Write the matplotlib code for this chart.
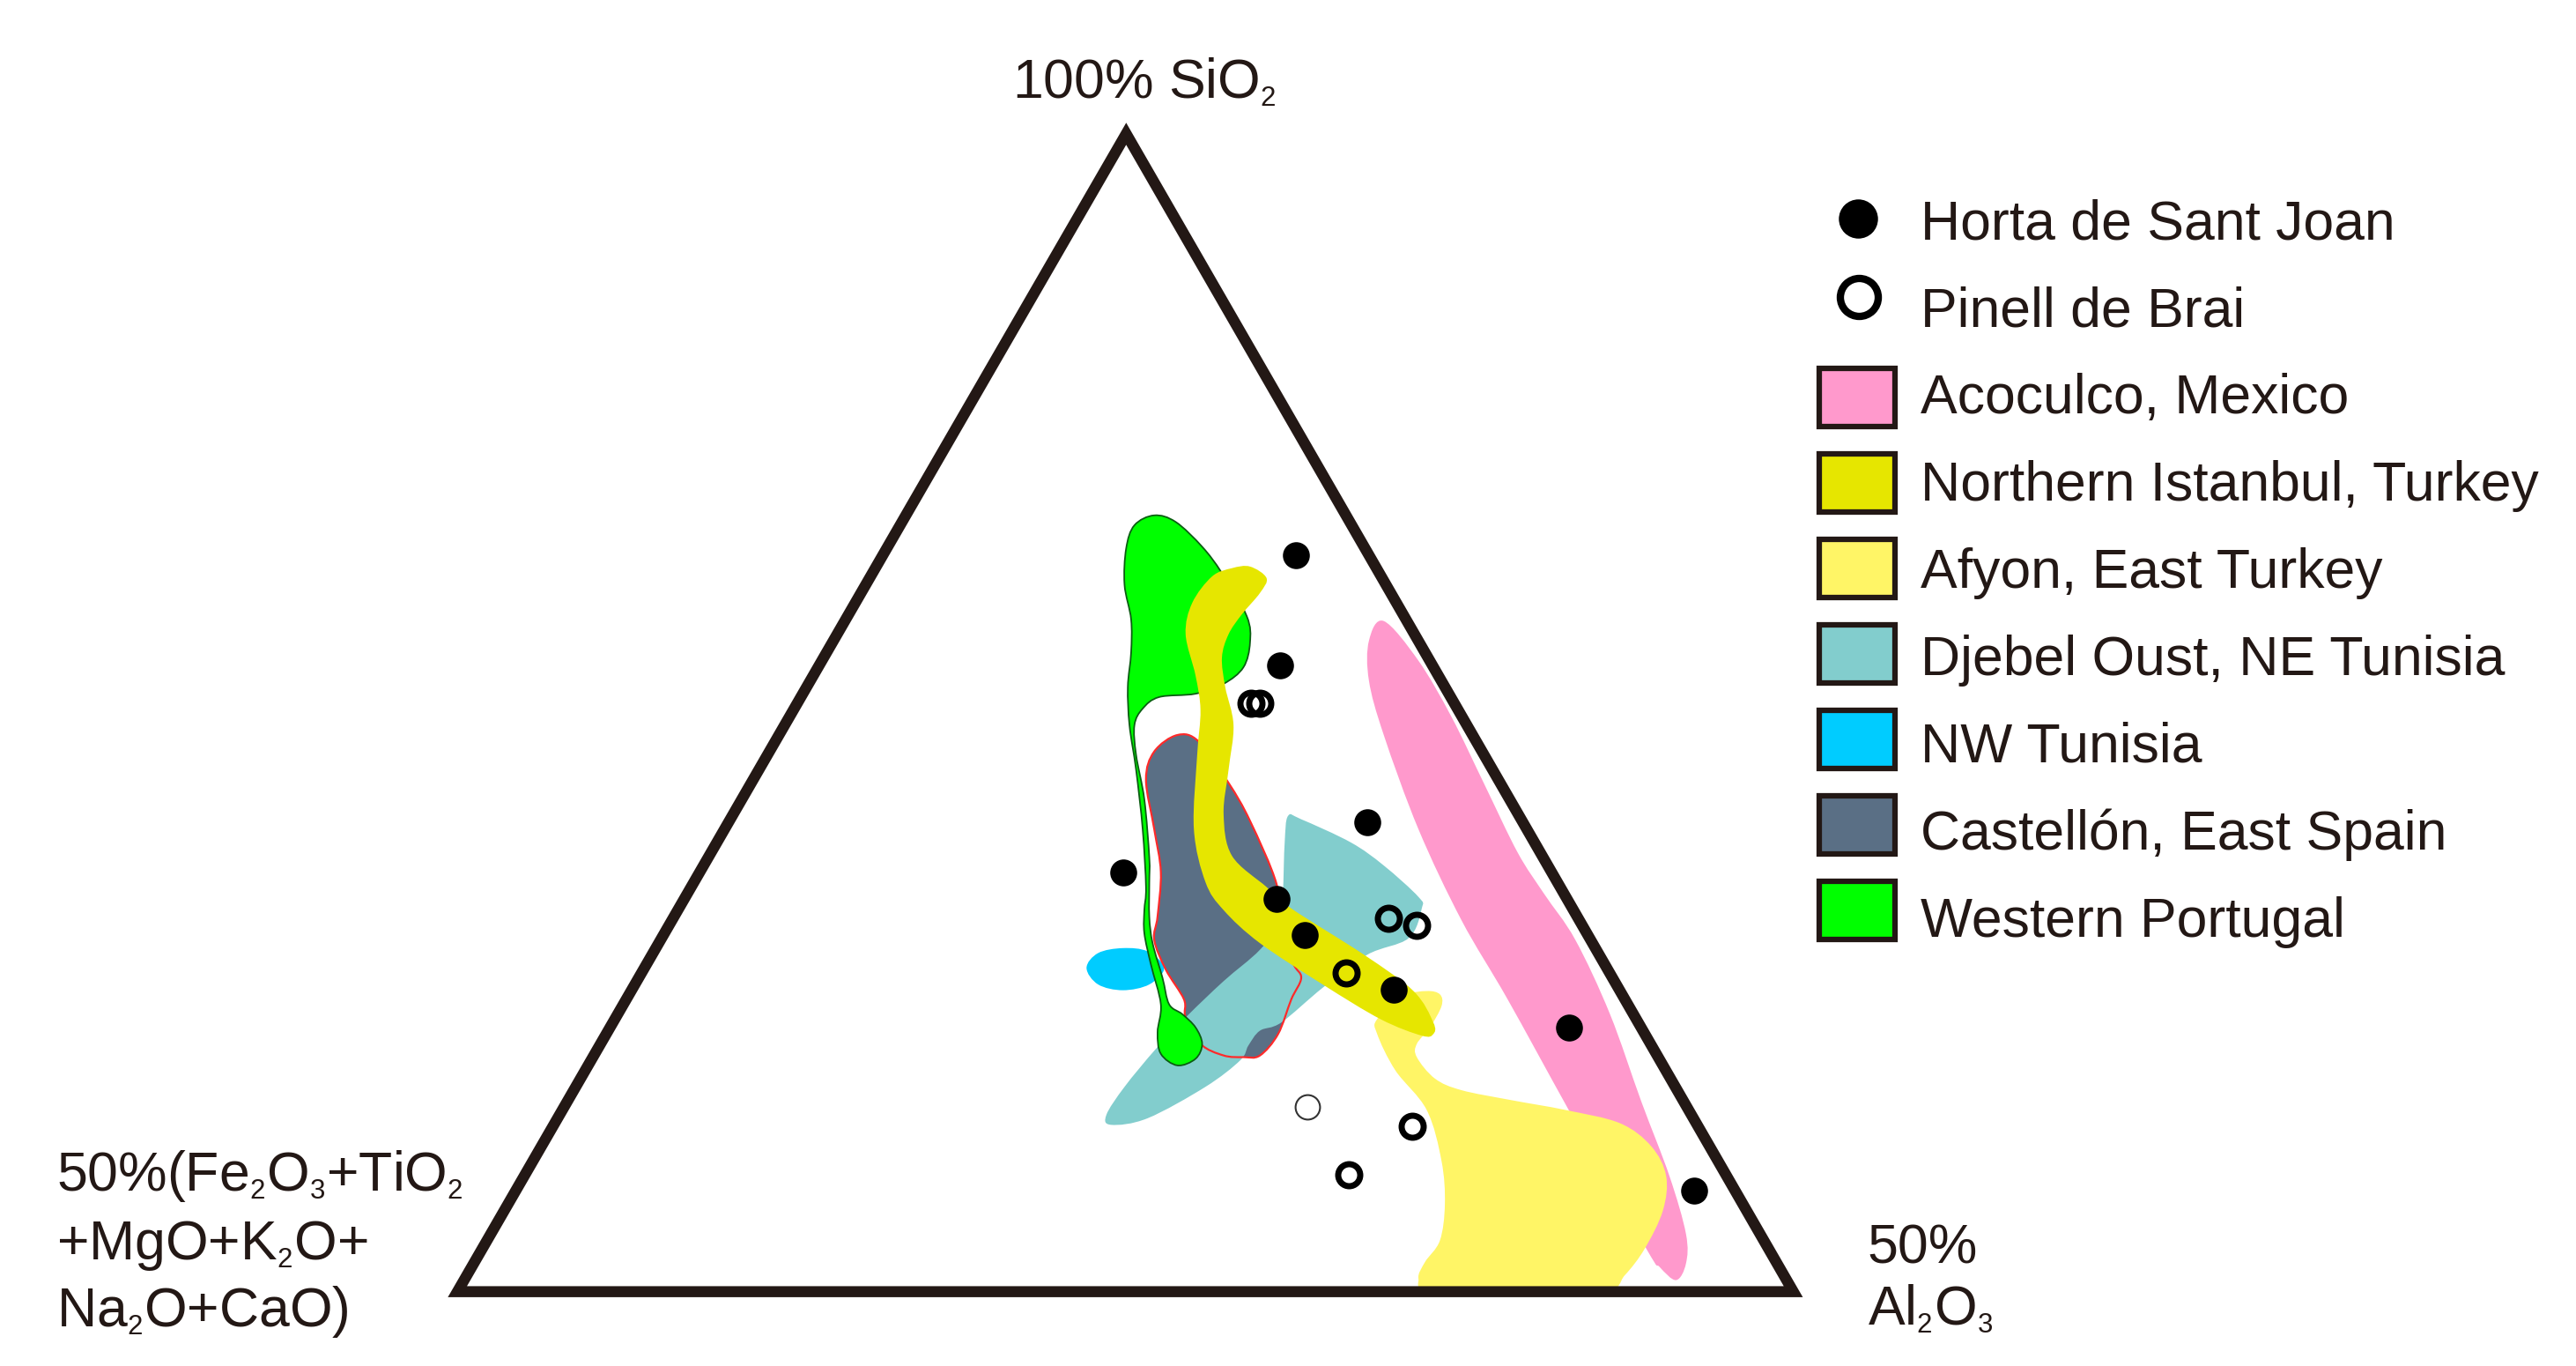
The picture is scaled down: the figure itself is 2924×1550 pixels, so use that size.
import matplotlib
matplotlib.use("Agg")
import matplotlib.pyplot as plt
import matplotlib._mathtext as _mt
from matplotlib.path import Path
from matplotlib.patches import PathPatch, Rectangle
import numpy as np

plt.rcParams['font.family'] = ['Liberation Sans', 'DejaVu Sans']
plt.rcParams['mathtext.fontset'] = 'custom'
plt.rcParams['mathtext.rm'] = 'Liberation Sans'
plt.rcParams['mathtext.default'] = 'rm'
_mt.SHRINK_FACTOR = 0.5

INK = '#231815'

# Diagram frame (units)
triangle = [(277, 782), (1086, 782), (682, 81)]

# Field outlines
acoculco = [(838, 376), (859, 400), (879, 434), (899, 475), (919, 516), (935, 541), (954, 569), (975, 614),
            (994, 667), (1011, 712), (1021, 747), (1021, 765), (1015, 775), (1005, 767), (997, 756),
            (950, 672), (913, 605), (885, 557), (859, 502), (838, 445), (829, 412), (829, 388)]
afyon = [(864, 600), (872, 602), (873, 609), (866, 622), (858, 632), (858, 640), (869, 653), (885, 660),
         (915, 666), (948, 672), (981, 680), (1000, 694), (1009, 712), (1007, 733), (996, 756), (984, 772),
         (972, 782), (920, 782), (866, 782), (859, 774), (863, 764), (872, 751), (875, 729), (873, 703),
         (864, 672), (845, 648), (834, 626), (834, 617), (850, 603)]
istanbul = [(757, 343), (767, 350), (763, 359), (752, 372), (744, 384), (740, 398), (742, 416), (747, 439),
            (744, 466), (741, 493), (746, 518), (767, 537), (782, 550), (826, 578), (856, 600), (868, 619),
            (868, 626), (861, 627), (836, 617), (801, 596), (763, 571), (741, 551), (730, 534), (723, 502),
            (725, 457), (727, 430), (724, 409), (718, 384), (722, 365), (734, 349), (746, 344)]
djebel = [(780, 494), (788, 496), (818, 510), (838, 524), (859, 543), (861, 550), (853, 568), (828, 578),
          (801, 598), (776, 619), (763, 624), (756, 633), (751, 642), (730, 658), (695, 677), (673, 681),
          (670, 675), (681, 658), (700, 635), (719, 615), (741, 594), (763, 575), (776, 557), (777, 540),
          (778, 510)]
nw_tunisia = [(658, 586), (665, 577), (680, 574), (695, 576), (705, 586), (696, 596), (680, 599.5), (665, 596)]
castellon = [(713, 445), (699, 455), (694, 472), (699, 502), (703, 528), (701, 555), (699, 569), (706, 587),
             (717, 605), (718, 616), (727, 632), (741, 639), (753, 640), (763, 639), (774, 626), (782, 605),
             (788, 592), (783, 583), (775, 560), (773, 535), (757, 497), (744, 474), (726, 449)]
portugal = [(699, 312), (687, 318), (682, 332), (681, 354), (685, 375), (685, 395), (683, 416), (684, 439),
            (688, 466), (692, 502), (694, 537), (693, 551), (693, 565), (697, 584), (703, 608), (701, 625),
            (703, 638), (713, 645), (724, 641), (728, 632), (724, 622), (716, 614), (708, 608), (704, 592),
            (698, 571), (696, 555), (696, 534), (696, 519), (693, 484), (688, 457), (687, 439), (692, 429),
            (702, 422), (724, 420), (741, 414), (753, 404), (757, 389), (755, 373), (740, 347), (728, 331),
            (712, 316)]

# Samples
horta_x = [785, 775, 828, 680, 773, 790, 844, 950, 1026]
horta_y = [336, 403, 498, 528, 544, 566, 599, 622, 721]
pinell_x = [757.5, 763, 841, 858, 815, 855, 817]
pinell_y = [426, 426, 556, 560, 589, 682, 711]
pinell_thin_x = [792]
pinell_thin_y = [670]

# Legend
point_labels = ['Horta de Sant Joan', 'Pinell de Brai']
field_labels = ['Acoculco, Mexico', 'Northern Istanbul, Turkey', 'Afyon, East Turkey',
                'Djebel Oust, NE Tunisia', 'NW Tunisia', 'Castellón, East Spain', 'Western Portugal']
field_colors = ['#ff99cc', '#e6e600', '#fff566', '#82cdcd', '#00ccff', '#5a6f85', '#00ff00']


def smooth_path(pts):
    p = np.asarray(pts, float)
    n = len(p)
    verts = [p[0]]
    codes = [Path.MOVETO]
    for i in range(n):
        p0, p1, p2, p3 = p[i - 1], p[i], p[(i + 1) % n], p[(i + 2) % n]
        verts += [p1 + (p2 - p0) / 6, p2 - (p3 - p1) / 6, p2]
        codes += [Path.CURVE4] * 3
    return Path(verts, codes)


fig = plt.figure(figsize=(29.24, 15.50), dpi=100)
ax = fig.add_axes([0, 0, 1, 1])
ax.set_xlim(0, 1560)
ax.set_ylim(827, 0)
ax.axis('off')

ax.add_patch(PathPatch(smooth_path(nw_tunisia), fc=field_colors[4], ec='none', zorder=1))
ax.add_patch(PathPatch(smooth_path(castellon), fc=field_colors[5], ec='none', zorder=2))
ax.add_patch(PathPatch(smooth_path(djebel), fc=field_colors[3], ec='none', zorder=3))
ax.add_patch(PathPatch(smooth_path(castellon), fc='none', ec='#ff2a2a', lw=1.6, zorder=4))
ax.add_patch(PathPatch(smooth_path(portugal), fc=field_colors[6], ec='#0b5d12', lw=1.3, zorder=5))
ax.add_patch(PathPatch(smooth_path(acoculco), fc=field_colors[0], ec='none', zorder=6))
ax.add_patch(PathPatch(smooth_path(afyon), fc=field_colors[2], ec='none', zorder=7))
ax.add_patch(PathPatch(smooth_path(istanbul), fc=field_colors[1], ec='none', zorder=8))

tx, ty = zip(*triangle)
ax.fill(tx, ty, fc='none', ec=INK, lw=9, joinstyle='miter', zorder=9)

ax.plot(horta_x, horta_y, 'o', ms=22, mfc='black', mec='none', zorder=10, ls='none')
ax.plot(pinell_x, pinell_y, 'o', ms=18, mfc='none', mec='black', mew=5, zorder=10, ls='none')
ax.plot(pinell_thin_x, pinell_thin_y, 'o', ms=20, mfc='none', mec='#333333', mew=1.5, zorder=10, ls='none')

FS = 45
ax.text(613, 50, r'100% SiO$_{2}$', fontsize=FS, color=INK, va='center', ha='left')
ax.text(34, 712, r'50%(Fe$_{2}$O$_{3}$+TiO$_{2}$', fontsize=FS, color=INK, va='center', ha='left')
ax.text(34, 754, r'+MgO+K$_{2}$O+', fontsize=FS, color=INK, va='center', ha='left')
ax.text(34, 794, r'Na$_{2}$O+CaO)', fontsize=FS, color=INK, va='center', ha='left')
ax.text(1131, 756, '50%', fontsize=FS, color=INK, va='center', ha='left')
ax.text(1131, 793, r'Al$_{2}$O$_{3}$', fontsize=FS, color=INK, va='center', ha='left')

ax.plot([1125], [132.5], 'o', ms=32, mfc='black', mec='none', zorder=10)
ax.plot([1125.5], [180], 'o', ms=31, mfc='none', mec='black', mew=6, zorder=10)
for label, y in zip(point_labels, [136, 189]):
    ax.text(1163, y, label, fontsize=FS, color=INK, va='center', ha='left')
for i, (label, color) in enumerate(zip(field_labels, field_colors)):
    yc = 240.7 + 51.75 * i
    ax.add_patch(Rectangle((1101.5, yc - 17.5), 46, 35, fc=color, ec=INK, lw=4.5, zorder=5))
    ax.text(1163, 241.5 + 52.8 * i, label, fontsize=FS, color=INK, va='center', ha='left')

fig.savefig('out.png', dpi=100)
